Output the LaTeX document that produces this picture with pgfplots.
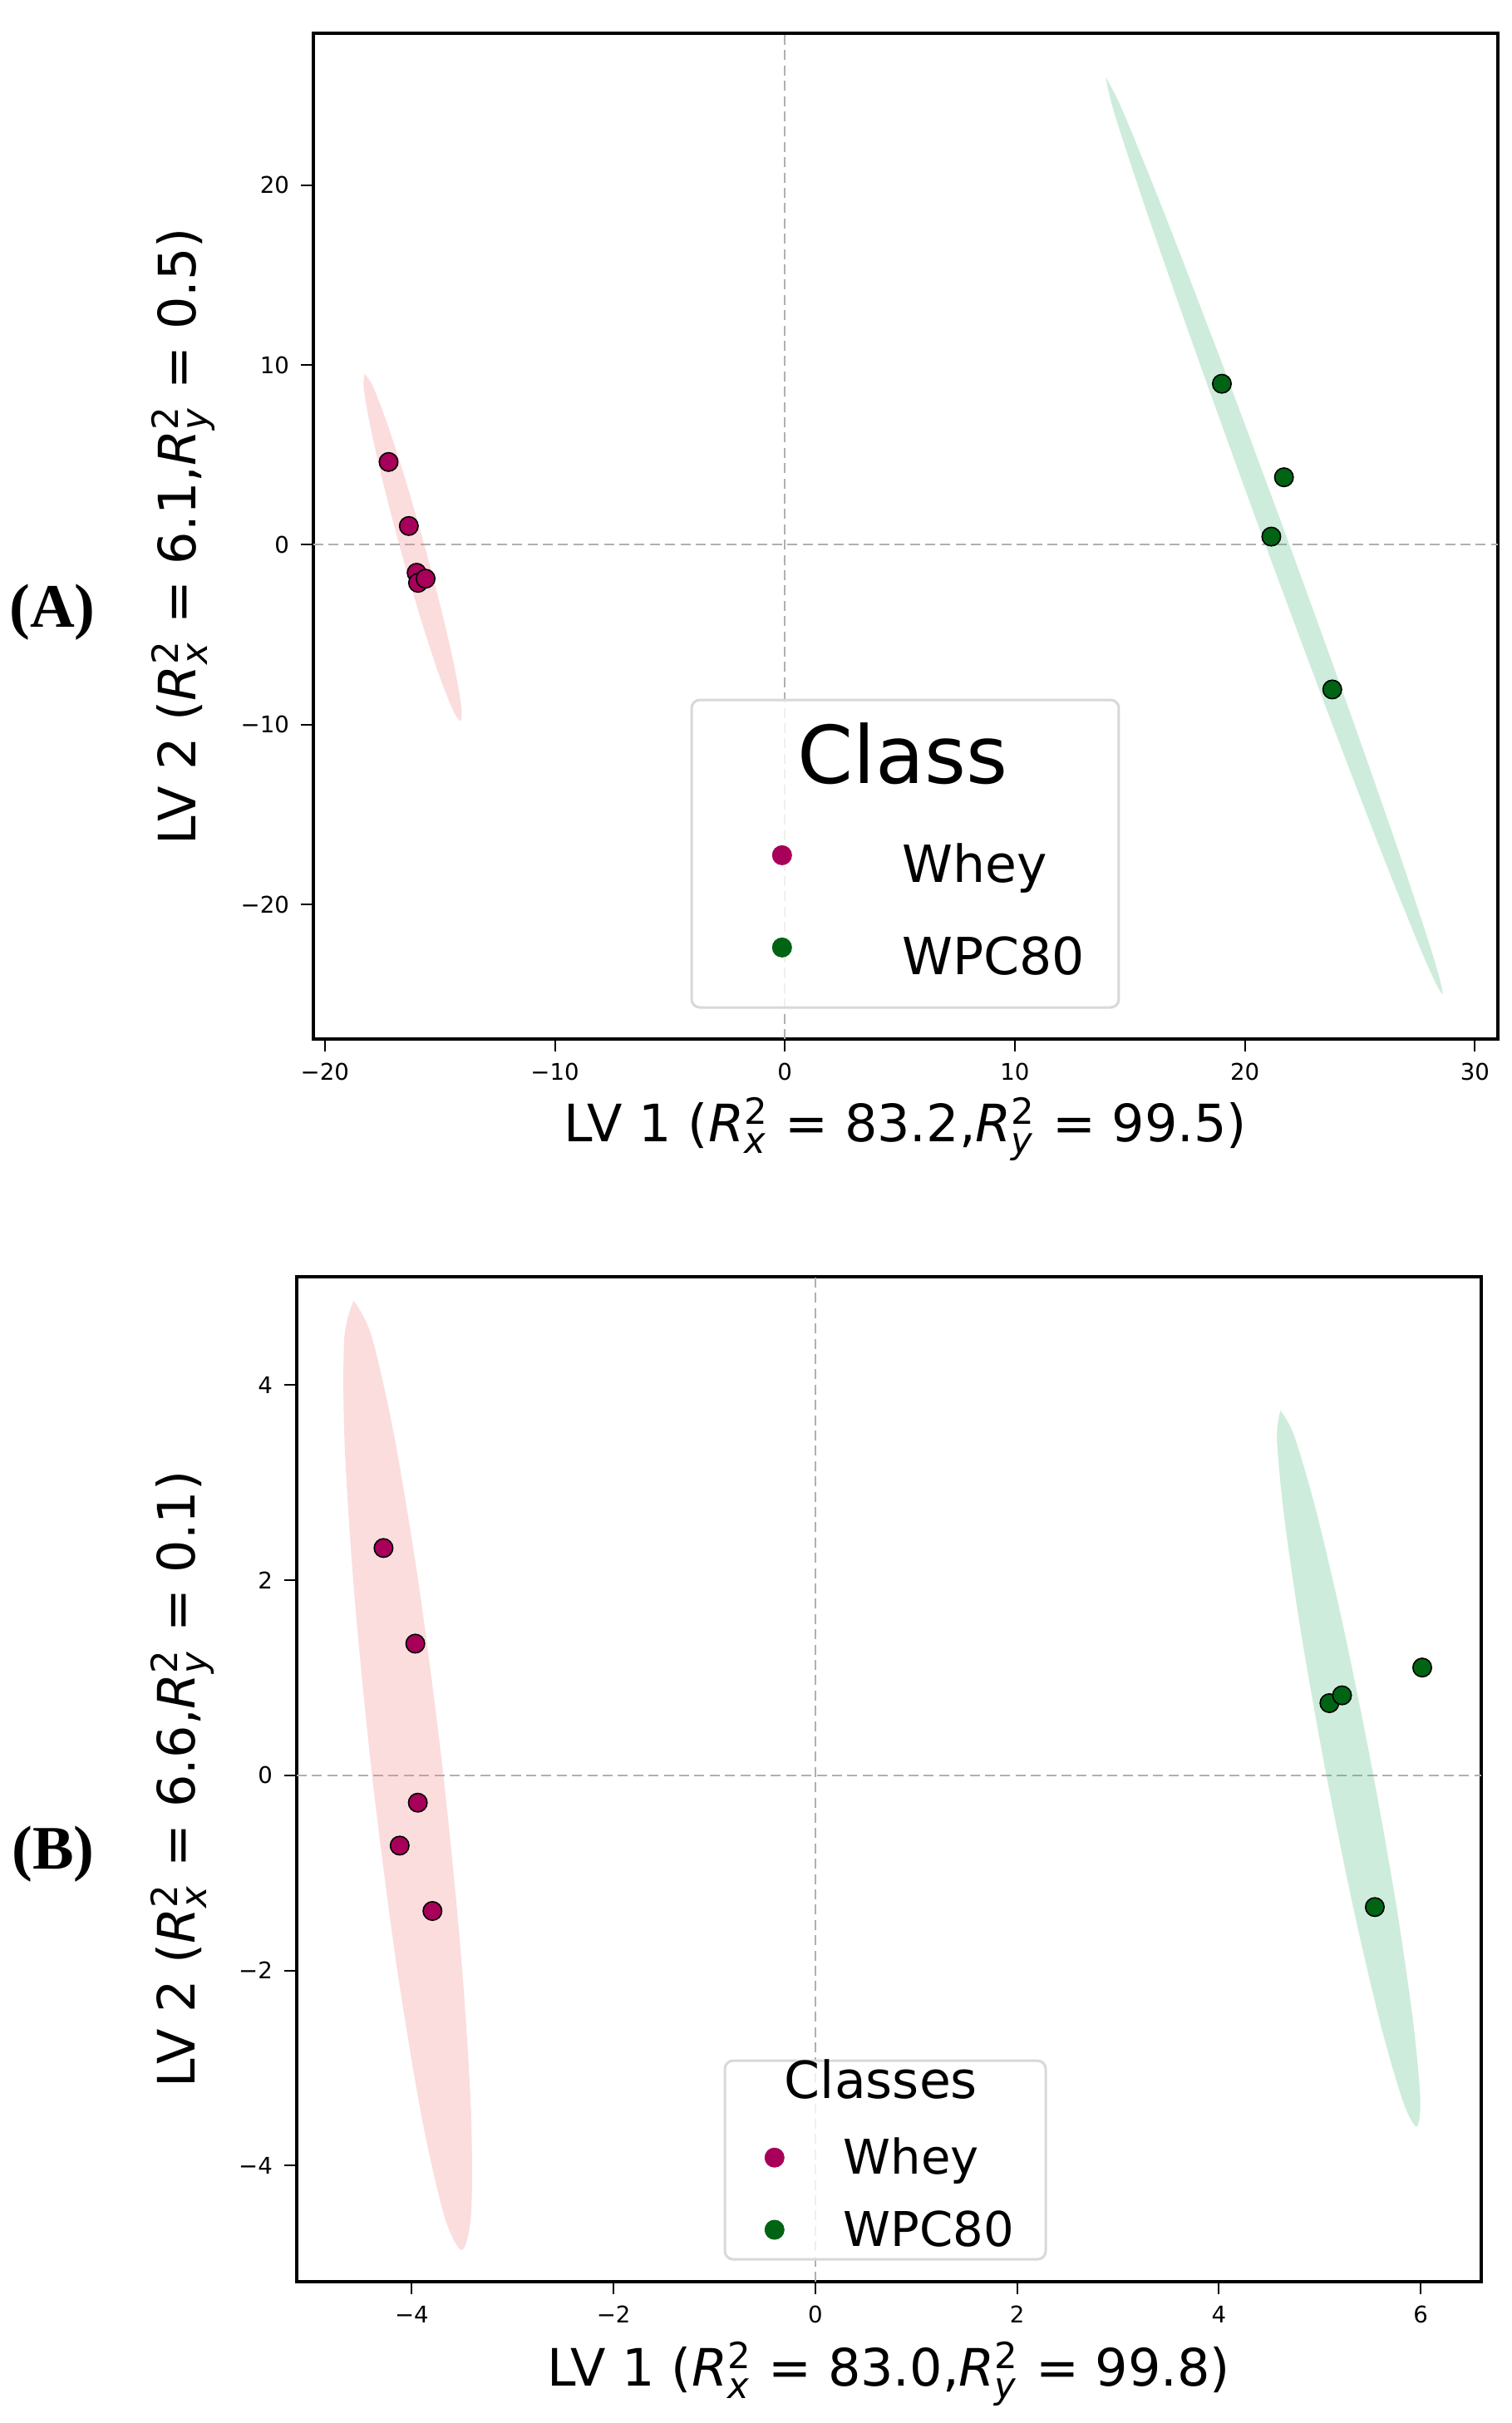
\documentclass[border=0pt]{standalone}
\usepackage{fontspec}
\setmainfont{DejaVu Sans}
\newfontfamily\serifbold{Liberation Serif}
\usepackage{pgfplots}
\pgfplotsset{compat=1.18}
\definecolor{wheyc}{HTML}{A8005A}
\definecolor{wpcc}{HTML}{006414}
\definecolor{pinkfill}{HTML}{F08080}
\definecolor{greenfill}{HTML}{3CB371}
\definecolor{dashc}{HTML}{B0B0B0}
\definecolor{legc}{HTML}{D8D8D8}

\pgfplotsset{
  pcastyle/.style={
    scale only axis,
    width=356.25pt,
    height=302.5pt,
    axis line style={black, line width=0.9pt},
    tick align=outside,
    tick pos=left,
    major tick length=3.75pt,
    tick style={black, line width=0.5pt},
    ticklabel style={font=\fontsize{6.9}{8}\selectfont},
    label style={font=\fontsize{15.5}{18}\selectfont},
    legend cell align=left,
    legend image code/.code={\draw[#1] plot coordinates {(0pt,0pt)};},
    legend image post style={mark options={}},
  },
  wheypts/.style={only marks, mark=*, color=wheyc, mark size=2.8pt, mark options={draw=black, line width=0.4pt}},
  wpcpts/.style={only marks, mark=*, color=wpcc, mark size=2.8pt, mark options={draw=black, line width=0.4pt}},
  zeroline/.style={dashc, line width=0.5pt, dash pattern=on 3pt off 1.6pt, forget plot},
}

\begin{document}
\begin{tikzpicture}
\useasboundingbox (0,0) rectangle (454.75pt,-728.75pt);

% ---------------- Panel A ----------------
\begin{axis}[pcastyle,
  at={(94.25pt,-312.5pt)}, anchor=south west,
  xmin=-20.5, xmax=31.0, ymin=-27.49, ymax=28.44,
  xtick={-20,-10,0,10,20,30},
  xticklabels={−20,−10,0,10,20,30},
  ytick={-20,-10,0,10,20},
  yticklabels={−20,−10,0,10,20},
  xlabel={LV 1 ($\mathit{R}^{\mathrm{2}}_{\mathit{x}}$ = 83.2,$\mathit{R}^{\mathrm{2}}_{\mathit{y}}$ = 99.5)},
  ylabel={LV 2 ($\mathit{R}^{\mathrm{2}}_{\mathit{x}}$ = 6.1,$\mathit{R}^{\mathrm{2}}_{\mathit{y}}$ = 0.5)},
  xlabel style={at={(axis description cs:0.5,-0.1017)}, anchor=base},
  ylabel style={at={(axis description cs:-0.0996,0.5)}, anchor=base},
  legend style={at={(axis description cs:0.3878,0.215)}, anchor=north west,
    draw=none, fill=none, inner sep=0pt, outer sep=0pt,
    row sep=8.25pt, column sep=33.4pt,
    nodes={inner sep=0pt, font=\fontsize{15.4}{18}\selectfont}},
]
\addplot[zeroline] coordinates {(0,-27.49) (0,28.44)};
\addplot[zeroline] coordinates {(-20.5,0) (31.0,0)};
\addplot[draw=none, fill=pinkfill, fill opacity=0.27, smooth, forget plot] coordinates {
(-18.275,9.50) (-17.924,8.836) (-17.307,6.800) (-16.522,3.711) (-15.685,0.029) (-14.924,-3.681) (-14.359,-6.846) (-14.070,-8.998) (-14.105,-9.80) (-14.456,-9.136) (-15.073,-7.10) (-15.858,-4.011) (-16.695,-0.329) (-17.456,3.381) (-18.021,6.546) (-18.31,8.698) (-18.275,9.50)} -- cycle;
\addplot[draw=none, fill=greenfill, fill opacity=0.25, smooth, forget plot] coordinates {
(13.95,26.0) (14.683,24.145) (16.421,18.682) (18.892,10.468) (21.731,0.717) (24.50,-9.066) (26.771,-17.376) (28.211,-22.979) (28.59,-25.0) (27.857,-23.145) (26.119,-17.682) (23.648,-9.468) (20.809,0.283) (18.04,10.066) (15.769,18.376) (14.329,23.979) (13.95,26.0)} -- cycle;
\addplot[wheypts] coordinates {(-17.23,4.60) (-16.35,1.04) (-16.01,-1.56) (-15.95,-2.12) (-15.62,-1.89)};
\addlegendentry{\rule[-4pt]{0pt}{22pt}Whey}
\addplot[wpcpts] coordinates {(19.0,8.95) (21.7,3.75) (21.15,0.45) (23.8,-8.05)};
\addlegendentry{\rule[-4pt]{0pt}{22pt}WPC80}
\draw[legc, line width=0.75pt, fill=white, fill opacity=0.8, rounded corners=2.5pt]
  (axis description cs:0.3193,0.0314) rectangle (axis description cs:0.680,0.3372);
\node[inner sep=0pt, anchor=center, font=\fontsize{24}{28}\selectfont] at (axis description cs:0.4975,0.2835) {Class};
\end{axis}

% ---------------- Panel B ----------------
\begin{axis}[pcastyle,
  at={(89.25pt,-686.25pt)}, anchor=south west,
  height=302.25pt,
  xmin=-5.14, xmax=6.60, ymin=-5.19, ymax=5.11,
  xtick={-4,-2,0,2,4,6},
  xticklabels={−4,−2,0,2,4,6},
  ytick={-4,-2,0,2,4},
  yticklabels={−4,−2,0,2,4},
  xlabel={LV 1 ($\mathit{R}^{\mathrm{2}}_{\mathit{x}}$ = 83.0,$\mathit{R}^{\mathrm{2}}_{\mathit{y}}$ = 99.8)},
  ylabel={LV 2 ($\mathit{R}^{\mathrm{2}}_{\mathit{x}}$ = 6.6,$\mathit{R}^{\mathrm{2}}_{\mathit{y}}$ = 0.1)},
  xlabel style={at={(axis description cs:0.5,-0.104)}, anchor=base},
  ylabel style={at={(axis description cs:-0.086,0.5)}, anchor=base},
  legend style={at={(axis description cs:0.3955,0.145)}, anchor=north west,
    draw=none, fill=none, inner sep=0pt, outer sep=0pt,
    row sep=8.7pt, column sep=18pt,
    nodes={inner sep=0pt, font=\fontsize{14.4}{17}\selectfont}},
]
\addplot[zeroline] coordinates {(0,-5.19) (0,5.11)};
\addplot[zeroline] coordinates {(-5.14,0) (6.60,0)};
\addplot[draw=none, fill=pinkfill, fill opacity=0.27, smooth, forget plot] coordinates {
(-4.576,4.865) (-4.401,4.511) (-4.172,3.469) (-3.923,1.901) (-3.691,0.041) (-3.513,-1.825) (-3.414,-3.411) (-3.411,-4.479) (-3.504,-4.865) (-3.679,-4.511) (-3.908,-3.469) (-4.157,-1.901) (-4.389,-0.041) (-4.567,1.825) (-4.666,3.411) (-4.669,4.479) (-4.576,4.865)} -- cycle;
\addplot[draw=none, fill=greenfill, fill opacity=0.25, smooth, forget plot] coordinates {
(4.61,3.74) (4.747,3.478) (4.967,2.696) (5.234,1.517) (5.51,0.114) (5.752,-1.295) (5.921,-2.494) (5.995,-3.304) (5.96,-3.60) (5.823,-3.338) (5.603,-2.556) (5.336,-1.377) (5.06,0.026) (4.818,1.435) (4.649,2.634) (4.575,3.444) (4.61,3.74)} -- cycle;
\addplot[wheypts] coordinates {(-4.28,2.33) (-3.965,1.35) (-3.94,-0.28) (-4.12,-0.72) (-3.795,-1.39)};
\addlegendentry{\rule[-4pt]{0pt}{15.5pt}Whey}
\addplot[wpcpts] coordinates {(5.095,0.74) (5.22,0.82) (6.015,1.105) (5.545,-1.35)};
\addlegendentry{\rule[-4pt]{0pt}{15.5pt}WPC80}
\draw[legc, line width=0.75pt, fill=white, fill opacity=0.8, rounded corners=2.5pt]
  (axis description cs:0.3614,0.0223) rectangle (axis description cs:0.6323,0.2200);
\node[inner sep=0pt, anchor=center, font=\fontsize{15.4}{18}\selectfont] at (axis description cs:0.4933,0.201) {Classes};
\end{axis}

\node[anchor=base, inner sep=0pt, font=\serifbold\bfseries\fontsize{18.6}{22}\selectfont] at (15.75pt,-188.5pt) {(A)};
\node[anchor=base, inner sep=0pt, font=\serifbold\bfseries\fontsize{18.6}{22}\selectfont] at (16pt,-562pt) {(B)};
\end{tikzpicture}
\end{document}
